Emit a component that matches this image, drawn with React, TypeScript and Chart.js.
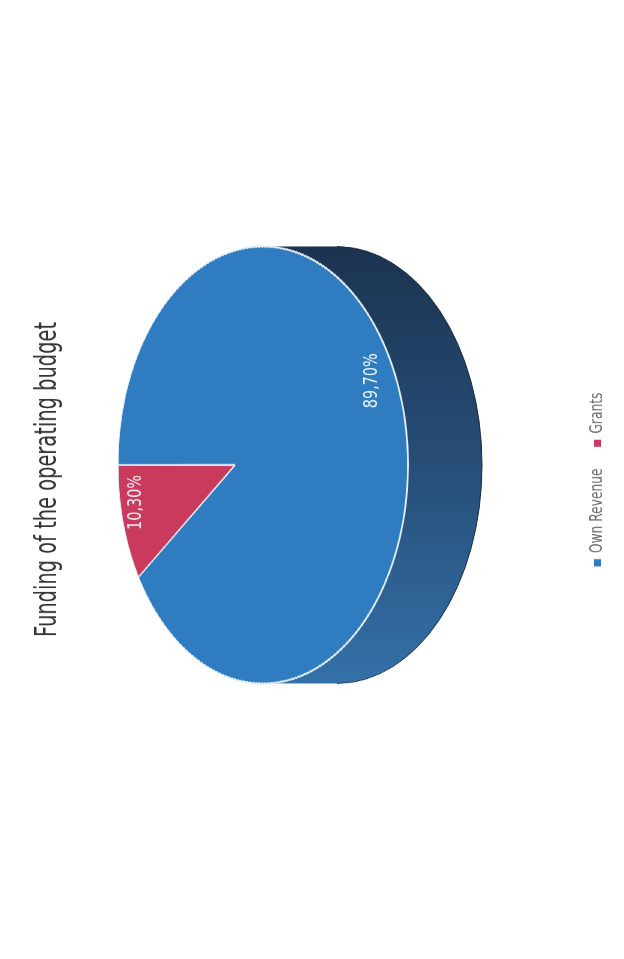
import React, { useEffect, useRef } from 'react';
import { Chart, registerables } from 'chart.js';

Chart.register(...registerables);

// ---- data ----
const categories = ['Own Revenue', 'Grants'];
const shares = [89.7, 10.3];
const titleText = 'Funding of the operating budget';

// ---- styles ----
const SLICE_COLORS = ['#2F7CC0', '#C93A5C'];
const SIDE_STOPS: Array<[number, string][]> = [
  [[0, '#3371a8'], [0.45, '#28517c'], [1, '#1c3350']],
  [[0, '#8a2440'], [1, '#5e1529']],
];
const FONT = '"DejaVu Sans"';
const TITLE_FONT = '"DejaVu Sans Condensed", "DejaVu Sans"';

// the page is drawn rotated: the canvas is laid out horizontally and turned -90deg
const K = 0.72; // horizontal squeeze of the whole drawing
const PAGE_W = 624;
const PAGE_H = 959;
const CW = Math.round(PAGE_H / K);
const CH = PAGE_W;

// projected top-face ellipse (canvas coords) and perspective tilt
const EX = 494 / K;
const EY = 263;
const ERX = 218.5 / K;
const ERY = 145;
const BETA = -0.193; // perspective shift of the pie centre toward the far rim
const DEPTH = 74;
const BAND = 3;

const fmt = (v: number) => v.toFixed(2).replace('.', ',') + '%';

// map a point of the unit disc to the screen (perspective of a tilted disc)
const proj = (x: number, y: number) => {
  const den = 1 + BETA * y;
  const xp = (x * Math.sqrt(1 - BETA * BETA)) / den;
  const yp = (y + BETA) / den;
  return { X: EX + ERX * xp, Y: EY + ERY * yp };
};
// inverse in y only: screen row -> unit disc y
const invY = (Y: number) => {
  const yp = (Y - EY) / ERY;
  return (yp - BETA) / (1 - BETA * yp);
};
// disc angle -> angle on the projected rim ellipse
const rimAngle = (t: number) =>
  Math.atan2(Math.sin(t) + BETA, Math.cos(t) * Math.sqrt(1 - BETA * BETA));

const pie3d = {
  id: 'pie3d',
  beforeDatasetsDraw(chart: any) {
    const ctx: CanvasRenderingContext2D = chart.ctx;
    const meta = chart.getDatasetMeta(0);
    const arcs = meta.data as any[];
    if (!arcs.length) return;
    const p0 = arcs[0].getProps(['x', 'y', 'outerRadius'], true);
    const cx = p0.x, cy = p0.y, r = p0.outerRadius;

    // side walls (front half only)
    arcs.forEach((arc, i) => {
      const { startAngle, endAngle } = arc.getProps(['startAngle', 'endAngle'], true);
      let f0 = rimAngle(startAngle);
      let f1 = rimAngle(endAngle);
      while (f1 <= f0) f1 += 2 * Math.PI;
      const grad = ctx.createLinearGradient(EX - ERX, 0, EX + ERX, 0);
      SIDE_STOPS[i % SIDE_STOPS.length].forEach(([o, c]) => grad.addColorStop(o, c));
      for (let k = -1; k <= 2; k++) {
        const a0 = Math.max(f0, 2 * Math.PI * k);
        const a1 = Math.min(f1, 2 * Math.PI * k + Math.PI);
        if (a1 <= a0) continue;
        ctx.save();
        ctx.beginPath();
        ctx.ellipse(EX, EY, ERX, ERY, 0, a0, a1, false);
        ctx.ellipse(EX, EY + DEPTH, ERX, ERY, 0, a1, a0, true);
        ctx.closePath();
        ctx.fillStyle = grad;
        ctx.fill();
        ctx.beginPath();
        ctx.ellipse(EX, EY + DEPTH, ERX, ERY, 0, a0, a1, false);
        ctx.strokeStyle = '#17283d';
        ctx.lineWidth = 1;
        ctx.stroke();
        ctx.restore();
      }
    });

    // top face: drawn in thin screen bands, each an affine piece of the perspective
    const sq = Math.sqrt(1 - BETA * BETA);
    const top = Math.floor(EY - ERY) - 2;
    const bottom = Math.ceil(EY + ERY) + 3;
    for (let Y0 = top; Y0 < bottom; Y0 += BAND) {
      const Y1 = Y0 + BAND;
      const y0 = invY(Y0);
      const y1 = invY(Y1);
      const ym = (y0 + y1) / 2;
      const m = (Y1 - Y0) / (y1 - y0);
      const a = (ERX * sq) / (1 + BETA * ym) / r;
      const d = m / r;
      const e = EX - a * cx;
      const f = Y0 - m * (cy / r + y0);
      ctx.save();
      ctx.beginPath();
      ctx.rect(0, Y0, chart.width, BAND);
      ctx.clip();
      ctx.transform(a, 0, 0, d, e, f);
      arcs.forEach((arc) => arc.draw(ctx));
      ctx.restore();
    }

    // value labels (inside end)
    ctx.save();
    ctx.font = `20px ${FONT}`;
    ctx.fillStyle = '#eef3f9';
    ctx.textAlign = 'left';
    ctx.textBaseline = 'middle';
    arcs.forEach((arc, i) => {
      const { startAngle, endAngle } = arc.getProps(['startAngle', 'endAngle'], true);
      const mid = (startAngle + endAngle) / 2;
      const fr = 0.87;
      const p = proj(fr * Math.cos(mid), fr * Math.sin(mid));
      const txt = fmt(shares[i]);
      const w = ctx.measureText(txt).width;
      ctx.fillText(txt, p.X - 0.25 * w, p.Y);
    });
    ctx.restore();
    return false;
  },
};

export default function App() {
  const ref = useRef<HTMLCanvasElement>(null);
  useEffect(() => {
    const chart = new Chart(ref.current as HTMLCanvasElement, {
      type: 'pie',
      data: {
        labels: categories,
        datasets: [
          {
            data: shares,
            backgroundColor: SLICE_COLORS,
            borderColor: '#e2edf8',
            borderWidth: 2,
          },
        ],
      },
      options: {
        responsive: false,
        devicePixelRatio: 1,
        animation: false,
        events: [],
        layout: { padding: { top: 0, bottom: 8, left: 0, right: 0 } },
        plugins: {
          tooltip: { enabled: false },
          title: {
            display: true,
            text: titleText,
            color: '#333333',
            font: { family: TITLE_FONT, size: 30, weight: 'normal' },
            padding: { top: 30, bottom: 10 },
          },
          legend: {
            position: 'bottom',
            labels: {
              boxWidth: 10,
              boxHeight: 7,
              padding: 30,
              color: '#666666',
              font: { family: FONT, size: 17 },
              generateLabels: (c: any) =>
                (Chart as any).overrides.pie.plugins.legend.labels
                  .generateLabels(c)
                  .map((it: any) => ({ ...it, lineWidth: 0, strokeStyle: 'transparent' })),
            },
          },
        },
      },
      plugins: [pie3d],
    } as any);
    return () => chart.destroy();
  }, []);

  return (
    <div
      style={{
        position: 'absolute',
        left: 0,
        top: 0,
        width: PAGE_W,
        height: PAGE_H,
        overflow: 'hidden',
        background: '#ffffff',
      }}
    >
      <div
        style={{
          position: 'absolute',
          left: 0,
          top: 0,
          width: CW,
          height: CH,
          transformOrigin: '0 0',
          transform: `translateY(${PAGE_H}px) rotate(-90deg) scaleX(${K})`,
        }}
      >
        <canvas ref={ref} width={CW} height={CH} style={{ display: 'block', width: CW, height: CH }} />
      </div>
    </div>
  );
}
